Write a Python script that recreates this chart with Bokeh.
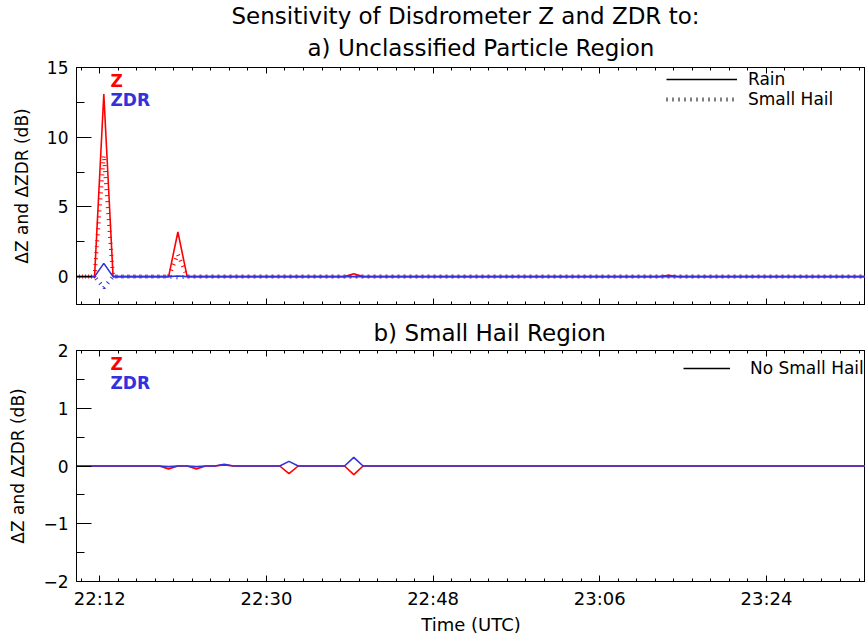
from bokeh.plotting import figure
from bokeh.layouts import column
from bokeh.models import (FixedTicker, LinearAxis, Title, Legend, LegendItem,
                          Label, Range1d)
from bokeh.embed import file_html
from bokeh.resources import INLINE

# ---------------- data ----------------
TIME_UTC = [
    "22:09:26", "22:10:26", "22:11:26", "22:12:26", "22:13:26", "22:14:26", "22:15:26", "22:16:26", "22:17:26", "22:18:26",
    "22:19:26", "22:20:26", "22:21:26", "22:22:26", "22:23:26", "22:24:26", "22:25:26", "22:26:26", "22:27:26", "22:28:26",
    "22:29:26", "22:30:26", "22:31:26", "22:32:26", "22:33:26", "22:34:26", "22:35:26", "22:36:26", "22:37:26", "22:38:26",
    "22:39:26", "22:40:26", "22:41:26", "22:42:26", "22:43:26", "22:44:26", "22:45:26", "22:46:26", "22:47:26", "22:48:26",
    "22:49:26", "22:50:26", "22:51:26", "22:52:26", "22:53:26", "22:54:26", "22:55:26", "22:56:26", "22:57:26", "22:58:26",
    "22:59:26", "23:00:26", "23:01:26", "23:02:26", "23:03:26", "23:04:26", "23:05:26", "23:06:26", "23:07:26", "23:08:26",
    "23:09:26", "23:10:26", "23:11:26", "23:12:26", "23:13:26", "23:14:26", "23:15:26", "23:16:26", "23:17:26", "23:18:26",
    "23:19:26", "23:20:26", "23:21:26", "23:22:26", "23:23:26", "23:24:26", "23:25:26", "23:26:26", "23:27:26", "23:28:26",
    "23:29:26", "23:30:26", "23:31:26", "23:32:26", "23:33:26", "23:34:26", "23:35:26",
]

# a) Unclassified particle region
DZ_RAIN_A = [
    0, 0, 0, 13.1, 0, 0, 0, 0, 0, 0,
    0, 3.2, 0, 0, 0, 0, 0, 0, 0, 0,
    0, 0, 0, 0, 0, 0, 0, 0, 0, 0,
    0.2, 0, 0, 0, 0, 0, 0, 0, 0, 0,
    0, 0, 0, 0, 0, 0, 0, 0, 0, 0,
    0, 0, 0, 0, 0, 0, 0, 0, 0, 0,
    0, 0, 0, 0, 0.1, 0, 0, 0, 0, 0,
    0, 0, 0, 0, 0, 0, 0, 0, 0, 0,
    0, 0, 0, 0, 0, 0, 0,
]
DZ_HAIL_A = [
    0, 0, 0, 8.7, 0, 0, 0, 0, 0, 0,
    0, 1.6, 0, 0, 0, 0, 0, 0, 0, 0,
    0, 0, 0, 0, 0, 0, 0, 0, 0, 0,
    0, 0, 0, 0, 0, 0, 0, 0, 0, 0,
    0, 0, 0, 0, 0, 0, 0, 0, 0, 0,
    0, 0, 0, 0, 0, 0, 0, 0, 0, 0,
    0, 0, 0, 0, 0, 0, 0, 0, 0, 0,
    0, 0, 0, 0, 0, 0, 0, 0, 0, 0,
    0, 0, 0, 0, 0, 0, 0,
]
DZDR_RAIN_A = [
    0, 0, 0, 0.95, 0, 0, 0, 0, 0, 0,
    0, 0.04, 0, 0, 0, 0, 0, 0, 0, 0,
    0, 0, 0, 0, 0, 0, 0, 0, 0, 0,
    0, 0, 0, 0, 0, 0, 0, 0, 0, 0,
    0, 0, 0, 0, 0, 0, 0, 0, 0, 0,
    0, 0, 0, 0, 0, 0, 0, 0, 0, 0,
    0, 0, 0, 0, 0, 0, 0, 0, 0, 0,
    0, 0, 0, 0, 0, 0, 0, 0, 0, 0,
    0, 0, 0, 0, 0, 0, 0,
]
DZDR_HAIL_A = [
    0, 0, 0, -0.8, 0, 0, 0, 0, 0, 0,
    0, -0.06, 0, 0, 0, 0, 0, 0, 0, 0,
    0, 0, 0, 0, 0, 0, 0, 0, 0, 0,
    0, 0, 0, 0, 0, 0, 0, 0, 0, 0,
    0, 0, 0, 0, 0, 0, 0, 0, 0, 0,
    0, 0, 0, 0, 0, 0, 0, 0, 0, 0,
    0, 0, 0, 0, 0, 0, 0, 0, 0, 0,
    0, 0, 0, 0, 0, 0, 0, 0, 0, 0,
    0, 0, 0, 0, 0, 0, 0,
]

# b) Small hail region (no small hail)
DZ_B = [
    0, 0, 0, 0, 0, 0, 0, 0, 0, 0,
    -0.05, 0, 0, -0.05, 0, 0, 0.02, 0, 0, 0,
    0, 0, 0, -0.13, 0, 0, 0, 0, 0, 0,
    -0.15, 0, 0, 0, 0, 0, 0, 0, 0, 0,
    0, 0, 0, 0, 0, 0, 0, 0, 0, 0,
    0, 0, 0, 0, 0, 0, 0, 0, 0, 0,
    0, 0, 0, 0, 0, 0, 0, 0, 0, 0,
    0, 0, 0, 0, 0, 0, 0, 0, 0, 0,
    0, 0, 0, 0, 0, 0, 0,
]
DZDR_B = [
    0, 0, 0, 0, 0, 0, 0, 0, 0, 0,
    -0.01, 0, 0, -0.01, 0, 0, 0.03, 0, 0, 0,
    0, 0, 0, 0.08, 0, 0, 0, 0, 0, 0,
    0.15, 0, 0, 0, 0, 0, 0, 0, 0, 0,
    0, 0, 0, 0, 0, 0, 0, 0, 0, 0,
    0, 0, 0, 0, 0, 0, 0, 0, 0, 0,
    0, 0, 0, 0, 0, 0, 0, 0, 0, 0,
    0, 0, 0, 0, 0, 0, 0, 0, 0, 0,
    0, 0, 0, 0, 0, 0, 0,
]

X_TICK_LABELS = ["22:12", "22:30", "22:48", "23:06", "23:24"]
X_START, X_END = "22:09:29", "23:34:42"
Y_TICKS_A = [0, 5, 10, 15]
Y_MINOR_A = [2.5, 7.5, 12.5]
Y_TICKS_B = [-2, -1, 0, 1, 2]
Y_MINOR_B = [-1.5, -0.5, 0.5, 1.5]
TITLE_MAIN = "Sensitivity of Disdrometer Z and ZDR to:"
TITLE_A = "a) Unclassified Particle Region"
TITLE_B = "b) Small Hail Region"


def to_min(s):
    parts = [int(v) for v in s.split(":")]
    sec = parts[2] if len(parts) > 2 else 0
    return parts[0] * 60 + parts[1] + sec / 60.0


x = [to_min(t) for t in TIME_UTC]
x_major = [to_min(t) for t in X_TICK_LABELS]
x_minor = [m for m in range(int(to_min(X_START)), int(to_min(X_END)) + 1) if m % 2 == 0]
x_overrides = {int(to_min(t)): t for t in X_TICK_LABELS}

FONT = "DejaVu Sans"
RED = "#ff0000"
BLUE = "#3232dc"
DOT = "1 5"
NAN = float("nan")


def style_x(ax, labels):
    ax.ticker = FixedTicker(ticks=x_major, minor_ticks=x_minor)
    ax.major_tick_in = 6
    ax.major_tick_out = 0
    ax.minor_tick_in = 3
    ax.minor_tick_out = 0
    ax.axis_line_color = "black"
    ax.major_tick_line_color = "black"
    ax.minor_tick_line_color = "black"
    if labels:
        ax.major_label_overrides = x_overrides
        ax.major_label_text_font = FONT
        ax.major_label_text_font_size = "18px"
        ax.major_label_text_color = "black"
        ax.major_label_standoff = 6
    else:
        ax.major_label_text_font_size = "0px"
        ax.major_label_text_color = None
        ax.major_label_standoff = 0


def make_panel(height, top, bottom, yr, yticks, yminor, xlabels):
    p = figure(width=865, height=height,
               x_range=Range1d(to_min(X_START), to_min(X_END)),
               y_range=Range1d(*yr),
               output_backend="svg", toolbar_location=None,
               min_border_left=76, min_border_right=0,
               min_border_top=top, min_border_bottom=bottom)
    p.grid.visible = False
    p.outline_line_color = "black"
    p.outline_line_width = 1
    p.background_fill_color = "white"
    p.border_fill_color = "white"
    style_x(p.below[0], xlabels)
    ya = p.left[0]
    ya.ticker = FixedTicker(ticks=yticks, minor_ticks=yminor)
    ya.major_tick_in = 15
    ya.major_tick_out = 0
    ya.minor_tick_in = 8
    ya.minor_tick_out = 0
    ya.axis_line_color = "black"
    ya.major_tick_line_color = "black"
    ya.minor_tick_line_color = "black"
    ya.major_label_text_font = FONT
    ya.major_label_text_font_size = "17px"
    ya.major_label_text_color = "black"
    ya.major_label_standoff = 8
    ya.major_label_overrides = {v: ("\u2212" + str(-v)) for v in yticks if v < 0}
    ya.axis_label = "\u0394Z and \u0394ZDR (dB)"
    ya.axis_label_text_font = FONT
    ya.axis_label_text_font_size = "17px"
    ya.axis_label_text_font_style = "normal"
    ya.axis_label_text_color = "black"
    ya.axis_label_standoff = 12
    top_ax = LinearAxis()
    style_x(top_ax, False)
    p.add_layout(top_ax, "above")
    return p


def add_title(p, text, offset, standoff):
    p.add_layout(Title(text=text, align="left", offset=offset, text_font=FONT,
                       text_font_size="23px", text_font_style="normal",
                       text_color="black", standoff=standoff), "above")


def add_zlabels(p, yz, yzdr):
    p.add_layout(Label(x=34, y=yz, x_units="screen", y_units="screen", text="Z",
                       text_color=RED, text_font=FONT, text_font_size="17px",
                       text_font_style="bold", text_baseline="top"))
    p.add_layout(Label(x=34, y=yzdr, x_units="screen", y_units="screen", text="ZDR",
                       text_color=BLUE, text_font=FONT, text_font_size="17px",
                       text_font_style="bold", text_baseline="top"))


def legend(items, loc, glyph_width, standoff):
    return Legend(items=items, location=loc, orientation="vertical",
                  glyph_width=glyph_width, glyph_height=20, label_height=20,
                  label_standoff=standoff, spacing=0, padding=0, margin=0,
                  label_text_font=FONT, label_text_font_size="17px",
                  label_text_color="black",
                  border_line_color=None, background_fill_alpha=0)


# ---------------- panel a ----------------
p1 = make_panel(312, 67, 8, (-2, 15), Y_TICKS_A, Y_MINOR_A, False)
add_title(p1, TITLE_A, 231, 14)
add_title(p1, TITLE_MAIN, 155, -7)

p1.line(x, DZ_RAIN_A, color=RED, line_width=1.6)
p1.line(x, DZ_HAIL_A, color=RED, line_width=4, line_dash=DOT)
p1.line(x, DZDR_RAIN_A, color=BLUE, line_width=1.6)
p1.line(x, DZDR_HAIL_A, color=BLUE, line_width=4, line_dash=DOT, line_dash_offset=3)

leg_rain = p1.line([NAN], [NAN], color="black", line_width=1.6)
leg_hail = p1.line([NAN], [NAN], color="black", line_width=4, line_dash=DOT)
p1.add_layout(legend([LegendItem(label="Rain", renderers=[leg_rain]),
                      LegendItem(label="Small Hail", renderers=[leg_hail])],
                     (590, 195), 71, 11), "center")
add_zlabels(p1, 234, 215)

# ---------------- panel b ----------------
p2 = make_panel(325, 38, 55, (-2, 2), Y_TICKS_B, Y_MINOR_B, True)
xb = p2.below[0]
xb.axis_label = "Time (UTC)"
xb.axis_label_text_font = FONT
xb.axis_label_text_font_size = "18px"
xb.axis_label_text_font_style = "normal"
xb.axis_label_text_color = "black"
xb.axis_label_standoff = 2
add_title(p2, TITLE_B, 297, 10)

p2.line(x, DZ_B, color=RED, line_width=1.6)
p2.line(x, DZDR_B, color=BLUE, line_width=1.6)

leg_nohail = p2.line([NAN], [NAN], color="black", line_width=1.6)
p2.add_layout(legend([LegendItem(label="No Small Hail", renderers=[leg_nohail])],
                     (607, 203), 47, 20), "center")
add_zlabels(p2, 228, 209)

layout = column(p1, p2, spacing=0)
open("out.html", "w").write(file_html(layout, INLINE))
